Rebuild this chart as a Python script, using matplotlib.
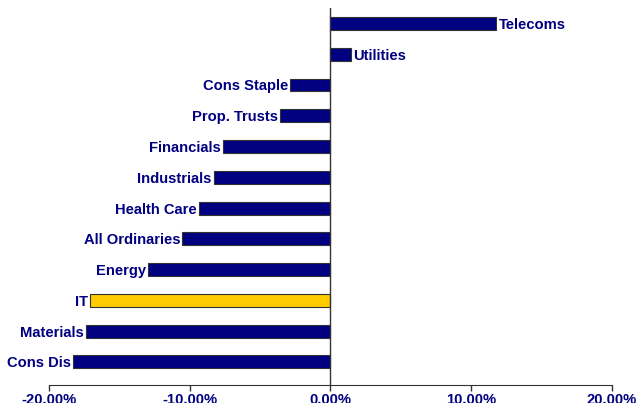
import matplotlib.pyplot as plt
import numpy as np

sectors = ['Cons Dis', 'Materials', 'IT', 'Energy', 'All Ordinaries', 'Health Care',
           'Industrials', 'Financials', 'Prop. Trusts', 'Cons Staple', 'Utilities', 'Telecoms']
returns = [-18.3, -17.4, -17.1, -13.0, -10.55, -9.35, -8.3, -7.65, -3.6, -2.85, 1.47, 11.8]
highlight = 'IT'

navy = '#000080'
gold = '#FFCC00'

plt.rcParams['font.family'] = ['Liberation Sans', 'DejaVu Sans']

fig = plt.figure(figsize=(6.36, 4.03), dpi=100)
ax = fig.add_axes([0.0778, 0.0447, 0.8837, 0.9353])

y = np.arange(len(sectors))
colores = [gold if s == highlight else navy for s in sectors]
ax.barh(y, returns, height=0.42, color=colores, edgecolor='#333333', linewidth=0.8, zorder=2)

# etiquetas junto al extremo de cada barra
for yi, val, nombre in zip(y, returns, sectors):
    if val < 0:
        ax.text(val - 0.15, yi, nombre, ha='right', va='center_baseline', fontsize=10.6,
                fontweight='bold', color=navy)
    else:
        ax.text(val + 0.15, yi, nombre, ha='left', va='center_baseline', fontsize=10.6,
                fontweight='bold', color=navy)

ax.axvline(0, color='#333333', linewidth=1, zorder=3)

ax.set_xlim(-20, 20)
ax.set_ylim(-0.75, 11.5)
ax.set_xticks([-20, -10, 0, 10, 20])
ax.set_xticklabels(['-20.00%', '-10.00%', '0.00%', '10.00%', '20.00%'],
                   fontsize=10.6, fontweight='bold', color=navy)
ax.tick_params(axis='x', direction='out', length=4.5, width=1, color='#333333', pad=1)
ax.set_yticks([])
for lado in ['top', 'right', 'left']:
    ax.spines[lado].set_visible(False)
ax.spines['bottom'].set_color('#333333')

fig.savefig('out.png', dpi=100)
